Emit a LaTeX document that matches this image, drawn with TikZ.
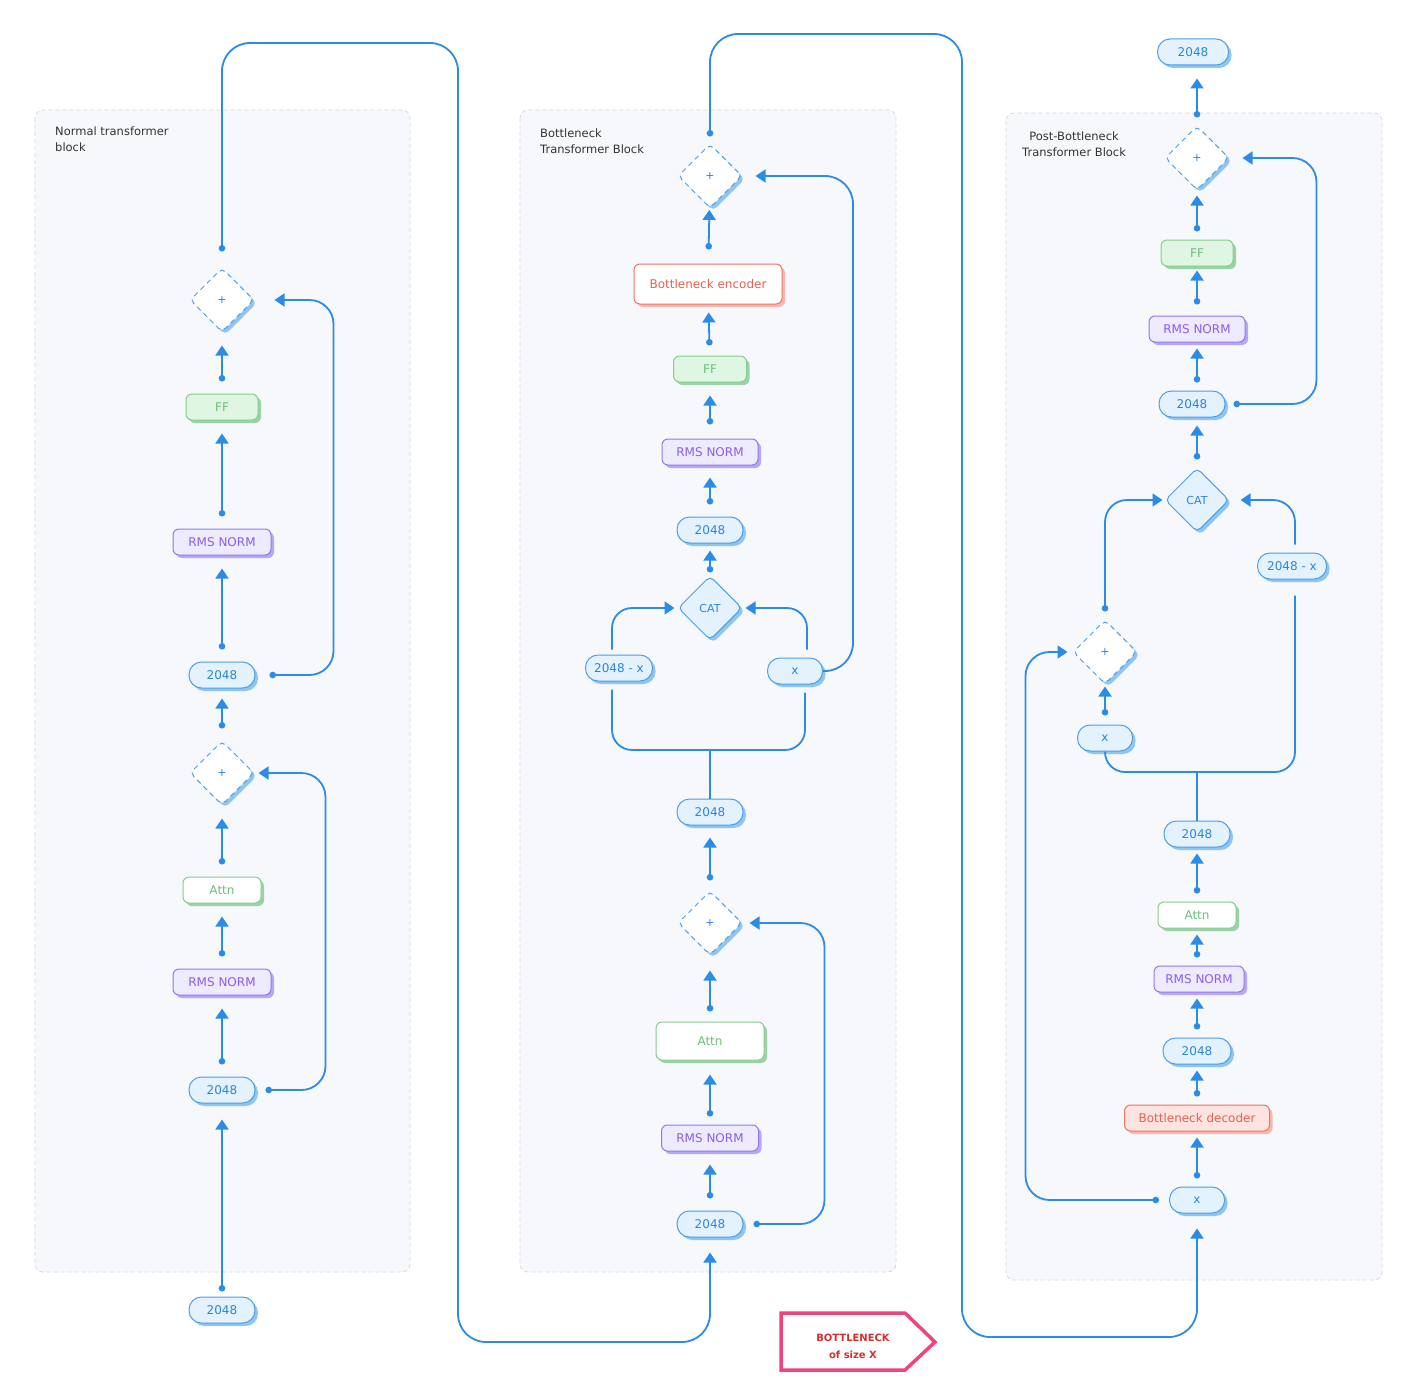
\documentclass[tikz,border=0pt]{standalone}
\usepackage{fontspec}
\setmainfont{DejaVu Sans}
\usetikzlibrary{arrows.meta,shapes.geometric,shadows,calc}
\definecolor{bl}{HTML}{2A8CE6}
\definecolor{pF}{HTML}{E4F2FE}
\definecolor{pB}{HTML}{4A9FE8}
\definecolor{pS}{HTML}{8EC5F2}
\definecolor{pT}{HTML}{2A86DA}
\definecolor{gF}{HTML}{DFF6E2}
\definecolor{gB}{HTML}{86CC92}
\definecolor{gT}{HTML}{6DBE7B}
\definecolor{gS}{HTML}{9AD3A4}
\definecolor{vF}{HTML}{EEEBFE}
\definecolor{vB}{HTML}{9277EE}
\definecolor{vT}{HTML}{8B5CF0}
\definecolor{vS}{HTML}{B7A7F6}
\definecolor{rF}{HTML}{FDE4E1}
\definecolor{rB}{HTML}{F07262}
\definecolor{rT}{HTML}{E8604F}
\definecolor{rS}{HTML}{F9B8AF}
\definecolor{panF}{HTML}{F6F8FC}
\definecolor{panB}{HTML}{D5D9E0}
\definecolor{pink}{HTML}{F0457A}
\definecolor{bred}{HTML}{D42F2F}
\definecolor{ttlc}{HTML}{333333}
\begin{document}
\begin{tikzpicture}[x=1pt,y=-1pt,
  conn/.style={draw=bl, line width=1.8pt, rounded corners=24pt},
  arr/.style={conn, {Circle[length=6.5pt]}-{Triangle[length=10pt,width=13pt]}, shorten <=12pt, shorten >=13pt},
  arrR/.style={arr, shorten <=8pt, shorten >=6pt},
  nodot/.style={conn, -{Triangle[length=10pt,width=13pt]}},
  nbase/.style={line width=1pt, inner sep=0pt, font=\fontsize{12}{14}\selectfont, minimum height=26pt},
  pill/.style={nbase, draw=pB, fill=pF, text=pT, rounded corners=12.5pt, minimum width=#1,
     drop shadow={shadow xshift=3pt, shadow yshift=-3pt, fill=pS, opacity=1}},
  ffbox/.style={nbase, draw=gB, fill=gF, text=gT, rounded corners=6pt, minimum width=#1,
     drop shadow={shadow xshift=3pt, shadow yshift=-3pt, fill=gS, opacity=1}},
  attnbox/.style={nbase, draw=gB, fill=white, text=gT, rounded corners=6pt, minimum width=#1,
     drop shadow={shadow xshift=3pt, shadow yshift=-3pt, fill=gS, opacity=1}},
  rmsbox/.style={nbase, draw=vB, fill=vF, text=vT, rounded corners=6pt, minimum width=#1,
     drop shadow={shadow xshift=3pt, shadow yshift=-3pt, fill=vS, opacity=1}},
  encbox/.style={nbase, draw=rB, fill=white, text=rT, rounded corners=6pt, minimum width=#1,
     drop shadow={shadow xshift=3pt, shadow yshift=-3pt, fill=rS, opacity=1}},
  decbox/.style={nbase, draw=rB, fill=rF, text=rT, rounded corners=6pt, minimum width=#1,
     drop shadow={shadow xshift=3pt, shadow yshift=-3pt, fill=rS, opacity=1}},
  plusd/.style={diamond, aspect=1, minimum width=64pt, minimum height=64pt, inner sep=0pt,
     draw=pB, fill=white, dash pattern=on 5pt off 4pt, line width=1pt, rounded corners=5pt,
     text=pT, font=\fontsize{11}{13}\selectfont,
     drop shadow={shadow xshift=3pt, shadow yshift=-3pt, fill=pS, opacity=1}},
  catd/.style={diamond, aspect=1, minimum width=64pt, minimum height=64pt, inner sep=0pt,
     draw=pB, fill=pF, line width=1pt, rounded corners=5pt,
     text=pT, font=\fontsize{11}{13}\selectfont,
     drop shadow={shadow xshift=3pt, shadow yshift=-3pt, fill=pS, opacity=1}},
  panel/.style={draw=panB, fill=panF, line width=0.8pt, dash pattern=on 4pt off 3pt, rounded corners=8pt},
  ttl/.style={text=ttlc, font=\fontsize{11.5}{16}\selectfont, inner sep=0pt}
]
\useasboundingbox (0,0) rectangle (1404,1391);
\fill[white] (0,0) rectangle (1404,1391);

% panels
\draw[panel] (35,110) rectangle (410,1272);
\draw[panel] (520,110) rectangle (896,1272);
\draw[panel] (1006,113) rectangle (1382,1280);

\node[ttl, anchor=north west, align=left] (t1) at (55,127) {Normal transformer\\block};
\node[ttl, anchor=north west, align=left] (t2) at (540,129) {Bottleneck\\Transformer Block};
\node[ttl, anchor=north west, align=center] (t3) at (1022,132) {Post-Bottleneck\\Transformer Block};

% ---------------- left column
\node[pill=66pt] (lin) at (222,1310) {2048};
\node[pill=66pt] (lp1) at (222,1090) {2048};
\node[rmsbox=98pt] (lr1) at (222,982) {RMS NORM};
\node[attnbox=78pt] (la1) at (222,890) {Attn};
\node[plusd] (ld1) at (222,773) {+};
\node[pill=66pt] (lp2) at (222,675) {2048};
\node[rmsbox=98pt] (lr2) at (222,542) {RMS NORM};
\node[ffbox=72pt] (lf) at (222,407) {FF};
\node[plusd] (ld2) at (222,300) {+};

\draw[arr, shorten <=5pt, shorten >=16pt] (lin) -- (lp1);
\draw[arr] (lp1) -- (lr1);
\draw[arr] (lr1) -- (la1);
\draw[arr] (la1) -- (ld1);
\draw[arr, shorten <=12pt, shorten >=10pt] (ld1) -- (lp2);
\draw[arr] (lp2) -- (lr2);
\draw[arr] (lr2) -- (lf);
\draw[arr] (lf) -- (ld2);
\draw[arr, shorten <=10pt, shorten >=4pt] (lp1.east) -- ++(70,0) |- (ld1.east);
\draw[arr, shorten <=14pt, shorten >=20pt] (lp2.east) -- ++(78,0) |- (ld2.east);

% ---------------- middle column
\node[pill=66pt] (mp0) at (710,1224) {2048};
\node[rmsbox=97pt] (mr1) at (710,1138) {RMS NORM};
\node[attnbox=108pt, minimum height=38pt] (ma1) at (710,1041) {Attn};
\node[plusd] (md1) at (710,923) {+};
\node[pill=66pt] (mp1) at (710,812) {2048};
\node[pill=67pt] (mpa) at (619,668) {2048 - x};
\node[pill=55pt] (mpx) at (795,671) {x};
\node[catd] (mcat) at (710,608) {CAT};
\node[pill=66pt] (mp2) at (710,530) {2048};
\node[rmsbox=96pt] (mr2) at (710,452) {RMS NORM};
\node[ffbox=73pt] (mf) at (710,369) {FF};
\node[encbox=148pt, minimum height=40pt] (menc) at (708,284) {Bottleneck encoder};
\node[plusd] (md2) at (710,176) {+};

% long connector left -> middle
\coordinate (w1) at (458,43);
\coordinate (w2) at (458,1342);
\draw[arr, rounded corners=28pt, shorten <=16pt, shorten >=15pt] (ld2.north) |- (w1) -- (w2) -| (mp0.south);

\draw[arr] (mp0) -- (mr1);
\draw[arr, shorten <=8pt, shorten >=14pt] (mr1) -- (ma1);
\draw[arr, shorten <=10pt, shorten >=15pt] (ma1) -- (md1);
\draw[arr, shorten <=10pt, shorten >=12pt] (md1) -- (mp1);
\draw[arr, shorten <=10pt, shorten >=7pt] (mp0.east) -- ++(81,0) |- (md1.east);

\coordinate (mfork) at (710,750);
\coordinate (mpaB) at ($(mpa.south)+(-7,0)$);
\coordinate (mpaT) at ($(mpa.north)+(-7,0)$);
\coordinate (mpxB) at ($(mpx.south)+(10,0)$);
\coordinate (mpxT) at ($(mpx.north)+(12,0)$);
\draw[conn] (mp1.north) -- (mfork);
\draw[conn, rounded corners=20pt, shorten <=8pt, shorten >=8pt] (mpaB) -- (mpaB |- mfork) -- (mpxB |- mfork) -- (mpxB);
\draw[nodot, rounded corners=20pt, shorten <=5pt, shorten >=3pt] (mpaT) |- (mcat.west);
\draw[nodot, rounded corners=20pt, shorten <=8pt, shorten >=3pt] (mpxT) |- (mcat.east);
\draw[nodot, rounded corners=28pt, shorten >=13pt] (mpx.east) -- ++(30,0) |- (md2.east);
\draw[arr, shorten <=3pt, shorten >=7pt] (mcat) -- (mp2);
\draw[arr, shorten <=12pt, shorten >=12pt] (mp2) -- (mr2);
\draw[arr, shorten <=14pt, shorten >=13pt] (mr2) -- (mf);
\draw[arr, shorten <=10pt, shorten >=8pt] (mf) -- (menc);
\draw[arr, shorten <=14pt, shorten >=2pt] (menc) -- (md2);

% ---------------- right column
\node[pill=55pt] (rx) at (1197,1200) {x};
\node[decbox=145pt] (rdec) at (1197,1118) {Bottleneck decoder};
\node[pill=68pt] (rp1) at (1197,1051) {2048};
\node[rmsbox=90pt] (rr1) at (1199,979) {RMS NORM};
\node[attnbox=78pt] (ra1) at (1197,915) {Attn};
\node[pill=66pt] (rp2) at (1197,834) {2048};
\node[pill=55pt] (rpx) at (1105,738) {x};
\node[pill=69pt] (rpa) at (1292,566) {2048 - x};
\node[plusd] (rdp) at (1105,652) {+};
\node[catd] (rcat) at (1197,500) {CAT};
\node[pill=66pt] (rp3) at (1192,404) {2048};
\node[rmsbox=96pt] (rr2) at (1197,329) {RMS NORM};
\node[ffbox=72pt] (rf) at (1197,253) {FF};
\node[plusd] (rd2) at (1197,158) {+};
\node[pill=71pt] (rout) at (1193,52) {2048};

% long connector middle -> right
\coordinate (w3) at (962,34);
\coordinate (w4) at (962,1337);
\draw[arr, rounded corners=28pt, shorten <=7pt, shorten >=15pt] (md2.north) |- (w3) -- (w4) -| (rx.south);

\draw[arr, shorten <=10pt, shorten >=5pt] (rx.west) -- ++(-143.5,0) |- (rdp.west);
\draw[arrR] (rx) -- (rdec);
\draw[arrR] (rdec) -- (rp1);
\draw[arrR] (rp1.north) -- (rp1.north |- rr1.south);
\draw[arrR] (ra1.south |- rr1.north) -- (ra1.south);
\draw[arrR] (ra1) -- (rp2);

\coordinate (rfork) at (1197,772);
\coordinate (rpaB) at ($(rpa.south)+(3,0)$);
\coordinate (rpaT) at ($(rpa.north)+(3,0)$);
\draw[conn] (rp2.north) -- (rfork);
\draw[conn, rounded corners=20pt, shorten <=0pt, shorten >=16pt] (rpx.south) -- (rpx.south |- rfork) -- (rpaB |- rfork) -- (rpaB);
\draw[nodot, rounded corners=22pt, shorten <=8pt, shorten >=11pt] (rpaT) |- (rcat.east);
\draw[arr, shorten <=9pt, shorten >=2pt] (rpx) -- (rdp);
\draw[arr, rounded corners=22pt, shorten <=8pt, shorten >=2pt] (rdp.north) |- (rcat.west);
\draw[arrR, shorten >=8pt] (rcat.north) -- (rcat.north |- rp3.south);
\draw[arr, shorten <=8pt, shorten >=13pt] (rp3.east) -- ++(91,0) |- (rd2.east);
\draw[arrR] (rp3.north -| rr2.south) -- (rr2.south);
\draw[arrR, shorten <=11pt, shorten >=4pt] (rr2) -- (rf);
\draw[arrR, shorten >=5pt] (rf) -- (rd2);
\draw[arrR, shorten >=13pt] (rd2.north) -- (rd2.north |- rout.south);

% bottleneck marker
\draw[pink, line width=3.5pt, fill=white, line join=miter] (781,1313) -- (905,1313) -- (935,1342) -- (905,1370) -- (781,1370) -- cycle;
\node[text=bred, font=\bfseries\fontsize{10}{17}\selectfont, align=center, inner sep=0pt] (bn) at (853,1346) {BOTTLENECK\\of size X};
\end{tikzpicture}
\end{document}
